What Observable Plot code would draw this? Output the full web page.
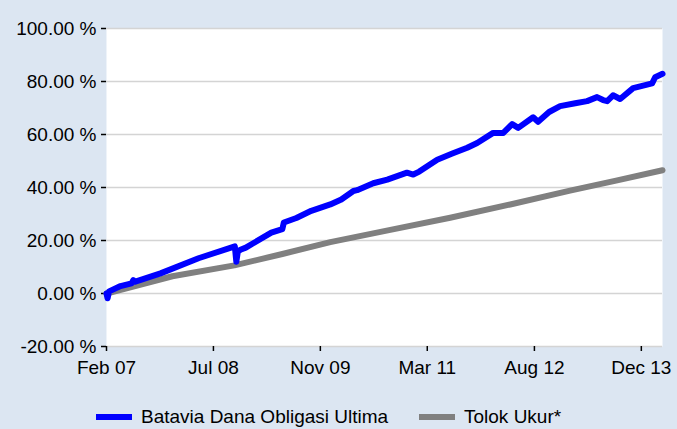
<!DOCTYPE html>
<html><head><meta charset="utf-8">
<script src="https://cdn.jsdelivr.net/npm/d3@7"></script>
<script src="https://cdn.jsdelivr.net/npm/@observablehq/plot@0.6"></script>
<style>
html,body{margin:0;padding:0;background:#dce6f2;}
body{width:677px;height:429px;overflow:hidden;position:relative;font-family:Arial,"Liberation Sans",sans-serif;}
#chart{position:absolute;left:0;top:0;}
.leg{position:absolute;top:406px;display:flex;align-items:center;font-size:19px;line-height:21px;color:#000;white-space:nowrap;}
.sw{width:36px;height:6px;margin-right:9px;}
</style></head><body>
<div id="chart"></div>
<div id="legend"></div>
<script>
const seriesNames = ["Batavia Dana Obligasi Ultima", "Tolok Ukur*"];
const seriesColors = ["#0000ff", "#808080"];

const fundDates = ["2007-02-28","2007-03-05","2007-03-12","2007-05-04","2007-06-24","2007-07-02","2007-07-08","2007-11-05","2008-04-29","2008-10-14","2008-10-21","2008-10-28","2008-11-09","2008-12-04","2009-04-01","2009-05-22","2009-05-29","2009-07-26","2009-10-03","2009-12-30","2010-02-19","2010-04-16","2010-05-03","2010-07-17","2010-09-20","2010-12-20","2011-01-18","2011-02-15","2011-05-09","2011-07-18","2011-09-25","2011-11-10","2012-01-23","2012-03-10","2012-04-20","2012-05-18","2012-07-26","2012-08-18","2012-10-08","2012-11-28","2013-02-06","2013-04-02","2013-05-18","2013-06-15","2013-07-04","2013-07-31","2013-09-02","2013-11-01","2014-01-28","2014-02-11","2014-03-17"];
const fundValues = [0,-1.8,0.8,2.8,3.8,5.0,4.4,7.6,13.3,17.8,12.0,15.8,16.5,17.3,23.0,24.3,26.8,28.5,31.2,33.6,35.5,38.7,39.0,41.6,43.0,45.6,44.9,46.0,50.5,52.8,55.0,56.8,60.6,60.6,63.9,62.5,66.5,64.8,68.5,70.7,71.8,72.6,74.1,73.0,72.6,74.8,73.4,77.5,79.3,81.6,82.9];

const benchDates = ["2007-02-28","2007-12-30","2008-10-12","2009-05-22","2009-12-30","2010-10-04","2011-07-08","2012-04-11","2013-01-13","2013-08-14","2014-03-17"];
const benchValues = [0,6.5,10.6,14.9,19.4,24.0,28.6,33.6,38.8,42.6,46.5];

const yTicks = [-20, 0, 20, 40, 60, 80, 100];
const xTickDates = ["2007-02-28","2008-07-07","2009-11-14","2011-03-24","2012-08-01","2013-12-09"];
const xDomain = ["2007-02-28","2014-03-17"];

const fund = fundDates.map((d, i) => ({date: new Date(d), value: fundValues[i]}));
const bench = benchDates.map((d, i) => ({date: new Date(d), value: benchValues[i]}));
const fmtMonth = d3.utcFormat("%b %y");

const chart = Plot.plot({
  width: 677, height: 395,
  marginLeft: 106, marginRight: 15, marginTop: 28, marginBottom: 49,
  style: {background: "transparent", fontFamily: "Arial, 'Liberation Sans', sans-serif", fontSize: "19px", color: "#000", overflow: "visible"},
  x: {type: "utc", domain: xDomain.map(d => new Date(d)), label: null},
  y: {domain: [-20, 100], label: null},
  marks: [
    Plot.frame({fill: "white", stroke: "none"}),
    Plot.gridY(yTicks, {stroke: "#d4d4d4", strokeOpacity: 1, strokeWidth: 1.5}),
    Plot.axisY(yTicks, {tickFormat: d => d.toFixed(2) + " %", tickSize: 5, tickPadding: 5, stroke: "#000", strokeWidth: 1.5, label: null}),
    Plot.axisX(xTickDates.map(d => new Date(d)), {tickFormat: fmtMonth, tickSize: 5, tickPadding: 9, stroke: "#000", strokeWidth: 1.5, label: null}),
    Plot.line(bench, {x: "date", y: "value", stroke: seriesColors[1], strokeWidth: 6, strokeLinejoin: "round", strokeLinecap: "round"}),
    Plot.line(fund, {x: "date", y: "value", stroke: seriesColors[0], strokeWidth: 6, strokeLinejoin: "round", strokeLinecap: "round"})
  ]
});
document.getElementById("chart").appendChild(chart);

const legend = document.getElementById("legend");
const legendLeft = [96, 419];
seriesNames.forEach((name, i) => {
  const item = document.createElement("div");
  item.className = "leg";
  item.style.left = legendLeft[i] + "px";
  item.innerHTML = `<span class="sw" style="background:${seriesColors[i]}"></span><span>${name}</span>`;
  legend.appendChild(item);
});
</script>
</body></html>
